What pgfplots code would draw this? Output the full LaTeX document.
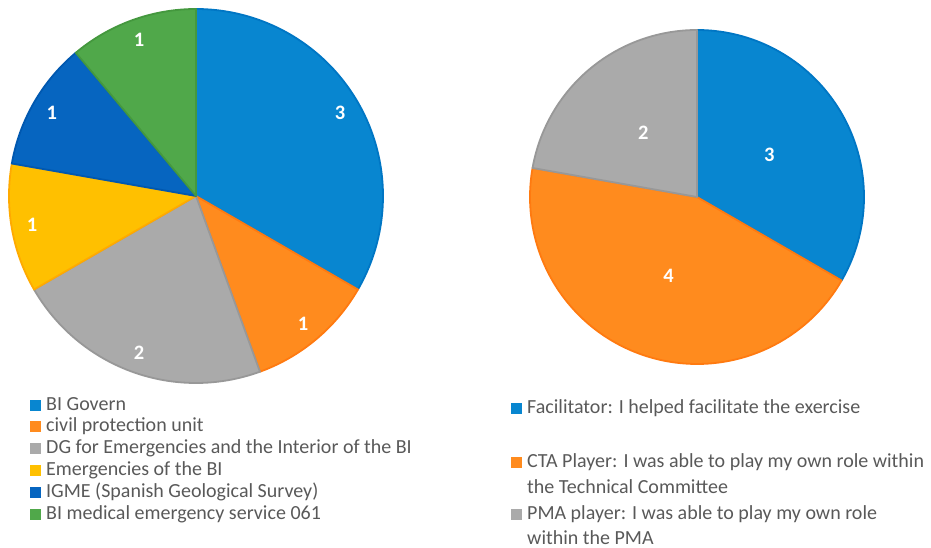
\documentclass[border=0pt]{standalone}
\usepackage{pgfplots}
\pgfplotsset{compat=1.18}
\usepackage{pgfplotstable}
\usepackage{fontspec}
\setmainfont{Carlito}

\definecolor{cBlue}{RGB}{8,134,208}
\definecolor{cBlueE}{RGB}{0,118,196}
\definecolor{cOrange}{RGB}{255,139,30}
\definecolor{cOrangeE}{RGB}{255,122,16}
\definecolor{cGray}{RGB}{170,170,170}
\definecolor{cGrayE}{RGB}{152,152,152}
\definecolor{cYellow}{RGB}{255,192,0}
\definecolor{cYellowE}{RGB}{255,170,0}
\definecolor{cDBlue}{RGB}{6,101,192}
\definecolor{cDBlueE}{RGB}{0,88,176}
\definecolor{cGreen}{RGB}{80,168,74}
\definecolor{cGreenE}{RGB}{68,152,62}
\definecolor{txt}{RGB}{89,89,89}

% left pie: organisations
\pgfplotstableread[col sep=comma]{
value,fill,edge
3,cBlue,cBlueE
1,cOrange,cOrangeE
2,cGray,cGrayE
1,cYellow,cYellowE
1,cDBlue,cDBlueE
1,cGreen,cGreenE
}\leftdata

% right pie: roles
\pgfplotstableread[col sep=comma]{
value,fill,edge
3,cBlue,cBlueE
4,cOrange,cOrangeE
2,cGray,cGrayE
}\rightdata

\newcommand\labelfont{\bfseries\fontsize{20.5}{24}\selectfont}
\newcommand\legfont{\fontsize{20}{24}\selectfont}

% #1 table, #2 cx, #3 cy, #4 radius, #5 label radius fraction
\newcommand{\piechart}[5]{%
  \pgfplotstablegetrowsof{#1}%
  \pgfmathtruncatemacro\N{\pgfplotsretval-1}%
  \gdef\total{0}%
  \foreach \i in {0,...,\N}{%
    \pgfplotstablegetelem{\i}{value}\of{#1}%
    \pgfmathsetmacro\tmp{\total+\pgfplotsretval}%
    \xdef\total{\tmp}}%
  \gdef\cum{0}%
  \foreach \i in {0,...,\N}{%
    \pgfplotstablegetelem{\i}{value}\of{#1}\let\v\pgfplotsretval
    \pgfplotstablegetelem{\i}{fill}\of{#1}\let\fc\pgfplotsretval
    \pgfplotstablegetelem{\i}{edge}\of{#1}\let\ec\pgfplotsretval
    \pgfmathsetmacro\aS{90-360*\cum/\total}%
    \pgfmathsetmacro\aE{90-360*(\cum+\v)/\total}%
    \pgfmathsetmacro\aM{(\aS+\aE)/2}%
    \pgfmathsetmacro\lx{#2+#5*#4*cos(\aM)}%
    \pgfmathsetmacro\ly{#3+#5*#4*sin(\aM)}%
    \pgfmathtruncatemacro\vt{\v}%
    \edef\temp{\noexpand\addplot[fill=\fc,draw=\ec,line width=1.8pt,line join=round,domain=\aE:\aS,samples=120,variable=\noexpand\t] ({#2+#4*cos(\noexpand\t)},{#3+#4*sin(\noexpand\t)}) -- (#2,#3) -- cycle;
      \noexpand\node[text=white,font=\noexpand\labelfont] at (\lx,\ly) {\vt};}%
    \temp
    \pgfmathsetmacro\tmp{\cum+\v}\xdef\cum{\tmp}%
  }%
}

\begin{document}
\begin{tikzpicture}
\path (0,0) rectangle (931pt,548pt);
\begin{axis}[x=1pt,y=1pt,xmin=0,xmax=931,ymin=0,ymax=548,
  scale only axis, hide axis, clip=false, at={(0,0)}, anchor=origin]
\piechart{\leftdata}{196}{352}{187}{0.89}
\piechart{\rightdata}{697}{351}{167}{0.5}

% left legend
\begin{scope}[every node/.style={anchor=base west,inner sep=0pt,text=txt,font=\legfont}]
\node at (30,137) {\textcolor{cBlue}{\rule{11pt}{11pt}}\hspace{5pt}BI Govern};
\node at (30,116) {\textcolor{cOrange}{\rule{11pt}{11pt}}\hspace{5pt}civil protection unit};
\node at (30,94) {\textcolor{cGray}{\rule{11pt}{11pt}}\hspace{5pt}DG for Emergencies and the Interior of the BI};
\node at (30,72) {\textcolor{cYellow}{\rule{11pt}{11pt}}\hspace{5pt}Emergencies of the BI};
\node at (30,50) {\textcolor{cDBlue}{\rule{11pt}{11pt}}\hspace{5pt}IGME (Spanish Geological Survey)};
\node at (30,28) {\textcolor{cGreen}{\rule{11pt}{11pt}}\hspace{5pt}BI medical emergency service 061};
% right legend
\node at (511,134) {\textcolor{cBlue}{\rule{11pt}{11pt}}\hspace{5pt}Facilitator: I helped facilitate the exercise};
\node at (511,80) {\textcolor{cOrange}{\rule{11pt}{11pt}}\hspace{5pt}CTA Player: I was able to play my own role within};
\node at (527,54) {the Technical Committee};
\node at (511,28) {\textcolor{cGray}{\rule{11pt}{11pt}}\hspace{5pt}PMA player: I was able to play my own role};
\node at (527,3) {within the PMA};
\end{scope}
\end{axis}
\end{tikzpicture}
\end{document}
